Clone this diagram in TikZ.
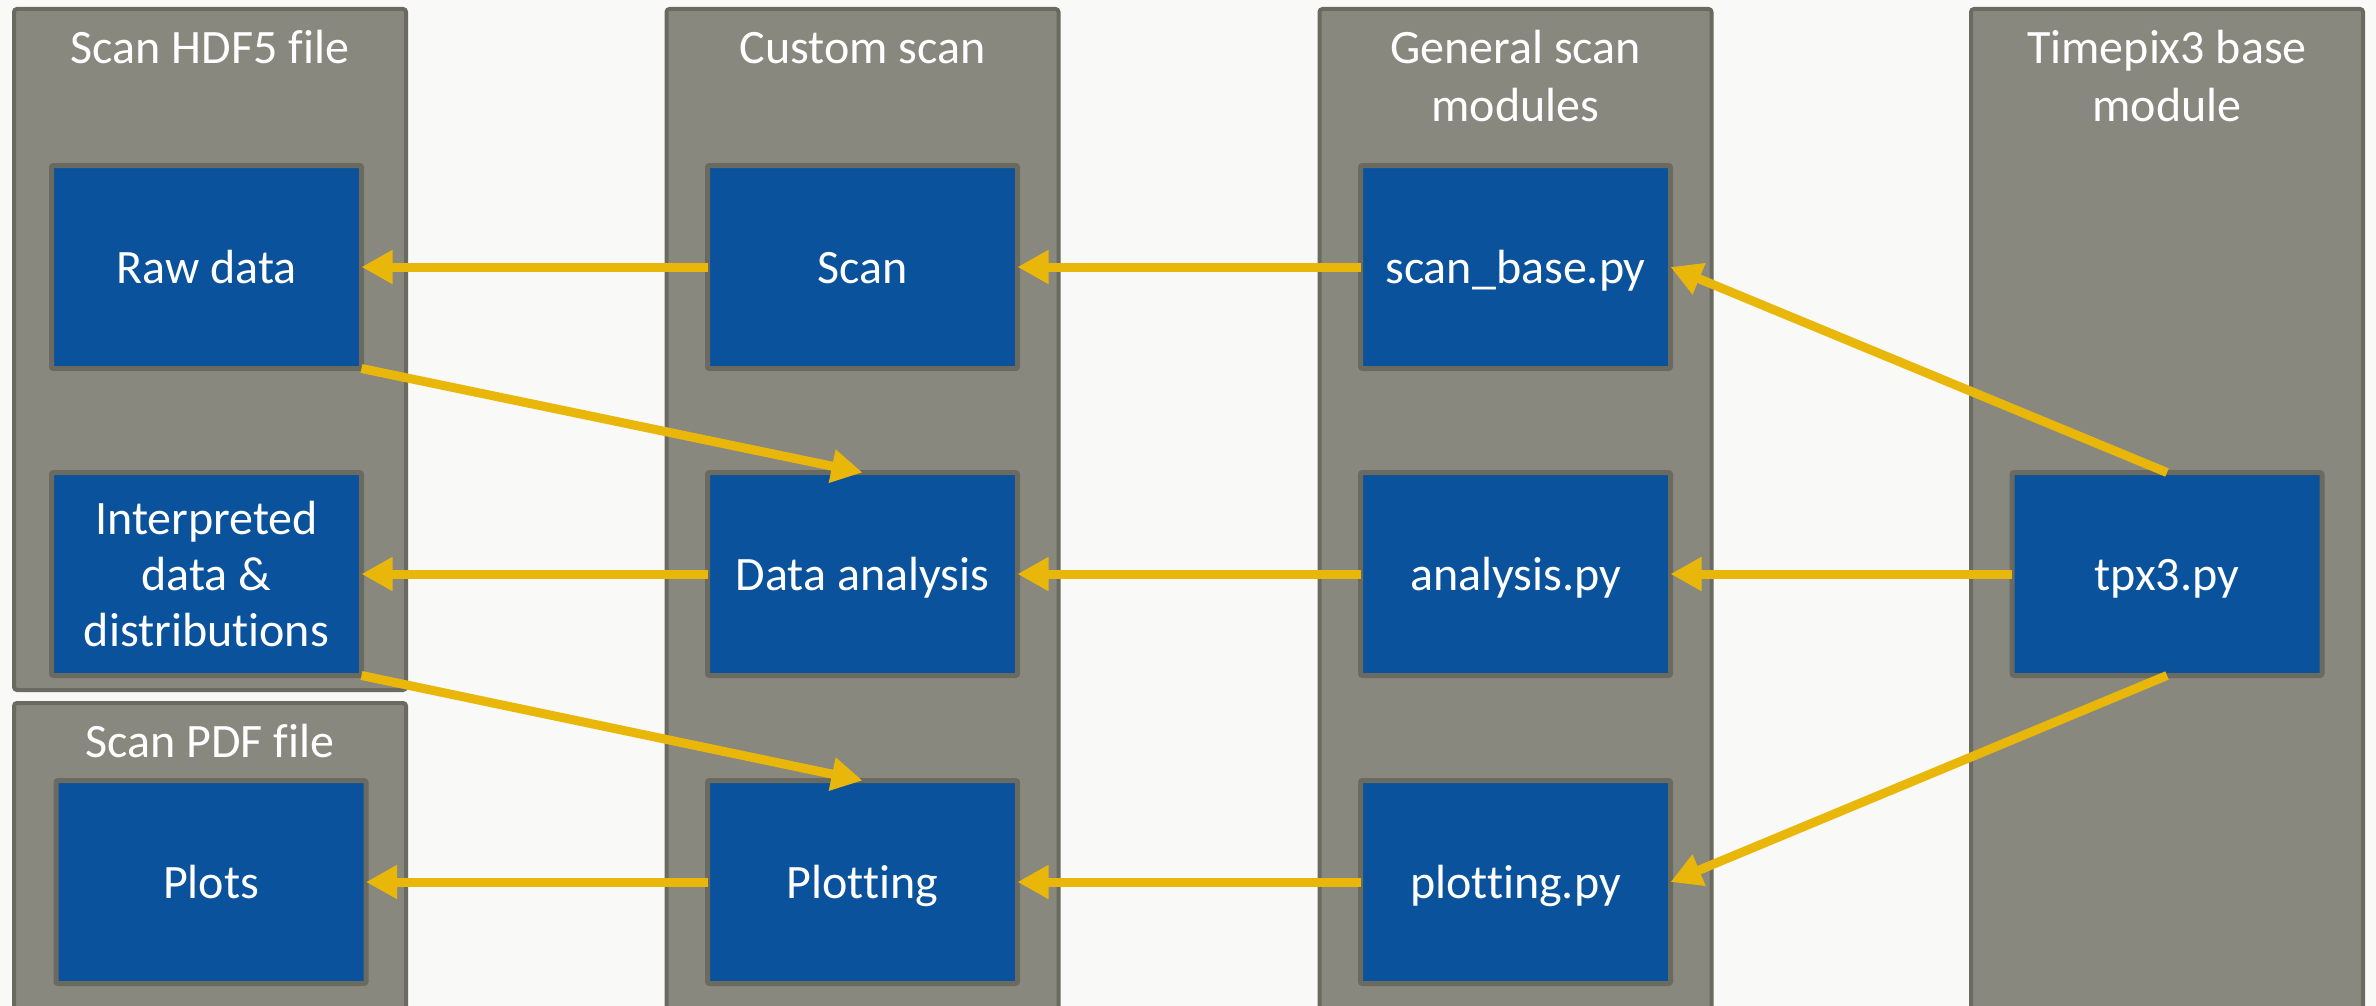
\documentclass[tikz,border=0pt]{standalone}
\usepackage{fontspec}
\setmainfont[Ligatures=NoCommon]{Carlito}
\usetikzlibrary{arrows.meta}
\definecolor{paper}{RGB}{249,249,247}
\definecolor{panelfill}{RGB}{137,136,127}
\definecolor{panelline}{RGB}{106,106,96}
\definecolor{boxblue}{RGB}{10,82,155}
\definecolor{flow}{RGB}{233,183,10}
\begin{document}
\begin{tikzpicture}[x=0.5pt,y=-0.5pt,
  panel/.style={draw=panelline, fill=panelfill, line width=2pt, rounded corners=1.5pt,
    minimum width=196pt, inner sep=0pt, outer sep=0pt},
  stage/.style={draw=panelline, fill=boxblue, line width=2.5pt, rounded corners=1pt,
    minimum width=155pt, minimum height=101.5pt, inner sep=0pt, outer sep=0pt,
    text=white, font=\fontsize{24pt}{28pt}\selectfont, align=center},
  oneline/.style={text height=16pt, text depth=0pt},
  heading/.style={text=white, font=\fontsize{24pt}{28.5pt}\selectfont, align=center,
    anchor=base, inner sep=0pt},
  flowarrow/.style={draw=flow, line width=4.5pt, -{Triangle[length=15.5pt,width=16pt]}}]

\useasboundingbox (0,0) rectangle (2376,1006);
\fill[paper] (0,0) rectangle (2376,1006);
\clip (0,0) rectangle (2376,1006);

% column panels
\node[panel, minimum height=340.5pt] (fileA) at (210,349.5) {};
\node[panel, minimum height=163.5pt] (fileB) at (210,866.5) {};
\node[panel, minimum height=510.5pt] (custom) at (862.5,519.5) {};
\node[panel, minimum height=510.5pt] (general) at (1515.5,519.5) {};
\node[panel, minimum height=510.5pt] (base) at (2167,519.5) {};

% column headings (base anchor sits on the last line)
\node[heading] (hA) at (210,64) {Scan HDF5 file};
\node[heading] (hB) at (210,757) {Scan PDF file};
\node[heading] (hC) at (862.5,64) {Custom scan};
\node[heading] (hD) at (1515.5,121) {General scan\\modules};
\node[heading] (hE) at (2167,121) {Timepix3 base\\module};

% stage boxes
\node[stage, oneline] (raw) at (206.5,267) {Raw data};
\node[stage] (interp) at (206.5,574) {Interpreted\\data \&\\distributions};
\node[stage, oneline] (plots) at (211,882) {Plots};

\node[stage, oneline] (scan) at (862.5,267) {Scan};
\node[stage, oneline] (ana) at (862.5,574) {Data analysis};
\node[stage, oneline] (plotting) at (862.5,882) {Plotting};

\node[stage, oneline] (sbase) at (1515.5,267) {scan\_base.py};
\node[stage, oneline] (anapy) at (1515.5,574) {analysis.py};
\node[stage, oneline] (plotpy) at (1515.5,882) {plotting.py};

\node[stage, oneline] (tpx) at (2167,574) {tpx3.py};

% data flow
\draw[flowarrow] (scan.west) -- (raw.east);
\draw[flowarrow] (sbase.west) -- (scan.east);
\draw[flowarrow] (tpx.north) -- (sbase.east);
\draw[flowarrow] (raw.south east) -- (ana.north);
\draw[flowarrow] (ana.west) -- (interp.east);
\draw[flowarrow] (anapy.west) -- (ana.east);
\draw[flowarrow] (tpx.west) -- (anapy.east);
\draw[flowarrow] (interp.south east) -- (plotting.north);
\draw[flowarrow] (plotting.west) -- (plots.east);
\draw[flowarrow] (plotpy.west) -- (plotting.east);
\draw[flowarrow] (tpx.south) -- (plotpy.east);
\end{tikzpicture}
\end{document}
